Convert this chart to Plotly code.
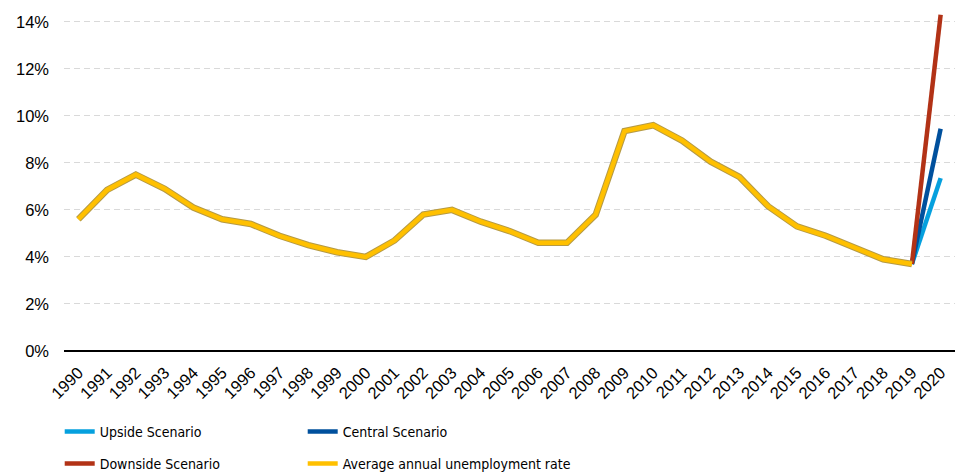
import plotly.graph_objects as go

years = [str(y) for y in range(1990, 2021)]
unemployment = [5.6, 6.85, 7.5, 6.9, 6.1, 5.6, 5.4, 4.9, 4.5, 4.2, 4.0, 4.7, 5.8, 6.0,
                5.5, 5.1, 4.6, 4.6, 5.8, 9.35, 9.6, 8.95, 8.05, 7.4, 6.15, 5.3, 4.9,
                4.4, 3.9, 3.7]
scenario_years = ["2019", "2020"]
upside = [3.7, 7.35]
central = [3.7, 9.45]
downside = [3.7, 14.3]

fig = go.Figure()
fig.add_trace(go.Scatter(x=scenario_years, y=upside, mode="lines", name="Upside Scenario",
                         line=dict(color="#05A0DE", width=4.5), legend="legend"))
fig.add_trace(go.Scatter(x=scenario_years, y=central, mode="lines", name="Central Scenario",
                         line=dict(color="#00509D", width=4.5), legend="legend2"))
fig.add_trace(go.Scatter(x=scenario_years, y=downside, mode="lines", name="Downside Scenario",
                         line=dict(color="#B23216", width=4.5), legend="legend3"))
fig.add_trace(go.Scatter(x=years[:-1], y=unemployment, mode="lines", showlegend=False,
                         line=dict(color="#B59A45", width=6.5)))
fig.add_trace(go.Scatter(x=years[:-1], y=unemployment, mode="lines",
                         name="Average annual unemployment rate",
                         line=dict(color="#FFC000", width=4.5), legend="legend4"))

legend_common = dict(orientation="h", xref="container", yref="container",
                     xanchor="left", yanchor="middle",
                     font=dict(family="DejaVu Sans Condensed, Liberation Sans Narrow, Liberation Sans",
                               size=14, color="#000000"),
                     bgcolor="rgba(0,0,0,0)")
col1 = 0.062
col2 = 0.062 + 243 / 963
row1 = 1 - 432 / 474
row2 = 1 - 464 / 474

fig.update_layout(
    width=963, height=474,
    margin=dict(l=64, r=8, t=10, b=123),
    paper_bgcolor="white", plot_bgcolor="white",
    font=dict(family="Liberation Sans, Arial", size=16, color="#000000"),
    hovermode=False,
    legend=dict(**legend_common, x=col1, y=row1),
    legend2=dict(**legend_common, x=col2, y=row1),
    legend3=dict(**legend_common, x=col1, y=row2),
    legend4=dict(**legend_common, x=col2, y=row2),
    xaxis=dict(type="category", categoryorder="array", categoryarray=years,
               range=[-0.5, 30.5], tickangle=-45, showgrid=False,
               showline=False, zeroline=False, ticks="", tickfont=dict(size=16.5),
               ticklabelstandoff=8),
    yaxis=dict(range=[0, 14.5], dtick=2, ticksuffix="%", showgrid=True,
               gridcolor="#D9D9D9", griddash="6px,4px", gridwidth=1,
               zeroline=True, zerolinecolor="#000000", zerolinewidth=2,
               showline=False, ticks="", tickfont=dict(size=16.5),
               ticklabelstandoff=14),
)

fig.write_html("out.html", config={"displayModeBar": False},
               post_script="document.body.style.margin='0';")
